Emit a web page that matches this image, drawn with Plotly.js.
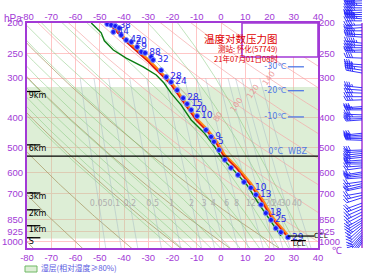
<!DOCTYPE html>
<html><head><meta charset="utf-8">
<script src="https://cdn.plot.ly/plotly-3.0.1.min.js"></script>
<style>html,body{margin:0;padding:0;background:#fff}#c{width:370px;height:275px}</style>
</head><body><div id="c"></div>
<script>
// ---------------- data ----------------
const pTicks = [200,250,300,400,500,600,700,850,925,1000];
const tTicks = [-80,-70,-60,-50,-40,-30,-20,-10,0,10,20,30,40];

const tempP = [200,230,266,315,408,439,482,527,580,649,734,834,949];
const tempT = [-46.5,-39.1,-30.0,-20.6,-10.3,-6.2,-2.1,0.8,6.2,11.5,16.5,20.6,26.7];
const parcelT = [-45.8,-38.4,-29.3,-20.0,-9.8,-5.7,-1.6,1.3,6.7,12.0,17.0,21.1,27.2];

const dewP = [200,215,228,244,259,276,293,311,335,365,408,448,498,540,591,658,756,840,957];
const dewT = [-53.5,-49.4,-48.1,-44.4,-39.1,-32.1,-26.7,-23.5,-20.6,-16.5,-12.3,-7.0,-2.5,0.4,5.3,10.7,15.6,19.8,24.7];

const obsP = [201.5,203,204.5,207.5,213.6,218.5,226.7,230,238.5,247.4,249.2,256.7,262.5,283,297.6,308.8,327.6,347.4,362.7,379,396.5,439,462,479,509,547,580,611,644,672,707,761,809,851,904,931,967];
const obsT = [-46.9,-45.3,-43.6,-42.0,-44.4,-41.2,-39.1,-37.0,-34.6,-32.9,-31.3,-28.8,-28.0,-24.7,-22.6,-20.6,-18.1,-15.6,-14.0,-12.3,-9.9,-6.2,-4.1,-2.9,-0.8,1.6,4.1,7.0,9.5,12.3,14.4,16.5,18.5,20.6,22.6,24.7,27.6];
const obsLbl = ['','','38','','44','','42','20','9','','88','','32','','28','24','','28','15','20','10','','9','5','','','','','','10','13','','18','25','','','29'];

const wetTopP = 320, wetBotP = 975;
const heightLbl = ['9km','6km','3km','2km','1km','S'];
const heightP = [331,490,698,790,888,970];
const levelLbl = ['-30℃','-20℃','-10℃'];
const levelP = [276,329,399];
const wbzP = 532;
const cclP = 958, lclP = 990;

const thetaC = [-80,-60,-40,-20,0,20,40,60,80,100,120,140,160,180,200];
const thetaLblC = [80,100,120,140];
const thetaLblP = [400,365,330,300];
const moistT0 = [-20,-16,-12,-8,-4,0,4,8,12,16,20,24,28,32,36];
const mixW = [0.05,0.1,0.2,0.5,1,2,3,4,6,8,12,16,20,24,30,40];
const mixLblP = 755;

const windP = [170,173,176,179,182,185,188,191,194,197,
               203,207,212,218,222,232,236,240,244,248,
               259,272,277,283,289,322,328,335,344,352,
               370,375,379,393,399,404,408,450,456,462,
               468,474,509,515,522,529,537,548,556,564,
               572,580,598,606,615,624,642,652,662,671,
               697,710,723,752,768,785,803,820,840,854,
               868,882,898,915,932,948,960,975,990,1005];
const windDir = [268,270,272,270,268,266,270,272,274,270,
                 268,266,270,272,274,276,272,270,268,270,
                 272,274,276,278,280,276,274,272,270,268,
                 266,268,270,272,270,268,266,264,266,268,
                 270,272,268,266,264,262,264,266,268,270,
                 266,262,260,262,264,266,262,258,256,258,
                 260,256,252,250,248,246,244,242,240,238,
                 236,232,228,226,224,222,220,218,216,214];
const windSpd = [18,20,22,20,18,16,18,20,22,20,
                 18,16,18,20,18,22,20,18,16,18,
                 16,14,16,18,16,14,12,14,16,14,
                 12,14,12,12,14,12,10,12,10,12,
                 12,10,12,10,12,10,12,10,8,10,
                 10,8,10,8,10,8,8,10,8,8,
                 8,10,8,8,10,8,10,8,10,8,
                 8,10,8,8,6,8,6,8,6,8];

// ---------------- layout constants ----------------
const W=370,H=275, plotL=27, plotR=318, plotT=23, plotB=248;
const pBottom=1046, pTop=200, pTopWind=169;
const PURPLE='#a23ad6', GRID='#ffc6c6', LBLUE='rgb(80,120,230)';
const xd=[plotL/W, plotR/W], yd=[1-plotB/H, 1-plotT/H];

// ---------------- helper physics for reference lines ----------------
const pGrid=[]; for(let p=1050;p>=160;p-=10) pGrid.push(p);
function dryT(thC,p){return (thC+273.15)*Math.pow(p/1000,0.286)-273.15;}
function satMix(Tc,p){const es=6.112*Math.exp(17.67*Tc/(Tc+243.5));return 0.622*es/(p-es);}
function moistLapse(TK,p){const Rd=287.04,cp=1005.7,Lv=2.501e6,eps=0.622;const rs=satMix(TK-273.15,p);
  return (Rd*TK+Lv*rs)/(p*(cp+Lv*Lv*rs*eps/(Rd*TK*TK)));}
function mixT(w,p){const e=w*p/(622+w);const l=Math.log(e/6.112);return 243.5*l/(17.67-l);}

const traces=[];
traces.push({x:[-80,40,40,-80,-80], y:[wetTopP,wetTopP,wetBotP,wetBotP,wetTopP], mode:'lines', fill:'toself',
  fillcolor:'rgba(170,212,152,0.4)', line:{width:0}, hoverinfo:'skip', xaxis:'x', yaxis:'y'});

const brX=[],brY=[],pkX=[],pkY=[];
thetaC.forEach(th=>{const tx=th<=20?brX:pkX, ty=th<=20?brY:pkY;
  pGrid.forEach(p=>{tx.push(dryT(th,p));ty.push(p);}); tx.push(null);ty.push(null);});
traces.push({x:brX,y:brY,mode:'lines',line:{color:'rgba(170,155,105,0.85)',width:0.9},hoverinfo:'skip'});
traces.push({x:pkX,y:pkY,mode:'lines',line:{color:'rgba(245,165,165,0.75)',width:0.9},hoverinfo:'skip'});

const mX=[],mY=[];
moistT0.forEach(t0=>{let T=t0+273.15,p=1050;mX.push(t0);mY.push(p);
  while(p>160){const dp=-5;const k1=moistLapse(T,p);const k2=moistLapse(T+k1*dp,p+dp);T+=0.5*(k1+k2)*dp;p+=dp;mX.push(T-273.15);mY.push(p);}
  mX.push(null);mY.push(null);});
traces.push({x:mX,y:mY,mode:'lines',line:{color:'rgba(125,195,115,0.6)',width:0.8},hoverinfo:'skip'});

const wX=[],wY=[];
mixW.forEach(w=>{pGrid.filter(p=>p>=300).forEach(p=>{wX.push(mixT(w,p));wY.push(p);});wX.push(null);wY.push(null);});
traces.push({x:wX,y:wY,mode:'lines',line:{color:'rgba(165,185,195,0.7)',width:0.7},hoverinfo:'skip'});
traces.push({x:mixW.map(w=>mixT(w,mixLblP)),y:mixW.map(()=>mixLblP),mode:'text',text:mixW.map(String),
  textfont:{family:'DejaVu Sans',size:8,color:'rgb(175,175,175)'},hoverinfo:'skip'});

const hX=[],hY=[];
heightP.forEach(p=>{hX.push(-80,-74.5,null);hY.push(p,p,null);});
traces.push({x:hX,y:hY,mode:'lines',line:{color:'#000',width:1.3},hoverinfo:'skip'});
traces.push({x:heightP.map(()=>-79.3),y:heightP,mode:'text',text:heightLbl,textposition:'bottom right',
  textfont:{family:'DejaVu Sans',size:8,color:'#000'},hoverinfo:'skip'});

traces.push({x:[-80,40],y:[wbzP,wbzP],mode:'lines',line:{color:'#000',width:1.3},hoverinfo:'skip',xaxis:'x2',yaxis:'y'});
traces.push({x:[27.5],y:[wbzP],mode:'text',text:['0°C  WBZ'],textposition:'top center',
  textfont:{family:'DejaVu Sans',size:8,color:LBLUE},hoverinfo:'skip'});

const lX=[],lY=[];
levelP.forEach(p=>{lX.push(27.6,34.2,null);lY.push(p,p,null);});
traces.push({x:lX,y:lY,mode:'lines',line:{color:LBLUE,width:1.3},hoverinfo:'skip',xaxis:'x',yaxis:'y2'});
traces.push({x:levelP.map(()=>22.4),y:levelP,mode:'text',text:levelLbl,
  textfont:{family:'DejaVu Sans',size:8,color:LBLUE},hoverinfo:'skip'});

traces.push({x:dewT,y:dewP,mode:'lines',line:{color:'#0a7d12',width:1.4},hoverinfo:'skip'});
traces.push({x:parcelT,y:tempP,mode:'lines',line:{color:'#ff8a1a',width:3.2},hoverinfo:'skip'});
traces.push({x:tempT,y:tempP,mode:'lines',line:{color:'#e01010',width:1.4},hoverinfo:'skip'});
traces.push({x:obsT,y:obsP,mode:'markers+text',text:obsLbl,textposition:'middle right',
  marker:{color:'rgb(25,25,245)',size:5,line:{color:'rgb(120,140,255)',width:1}},
  textfont:{family:'DejaVu Sans',size:9,color:'rgb(40,40,235)'},hoverinfo:'skip'});

traces.push({x:[27.6,38.5,null,28.8,35.0],y:[cclP,cclP,null,lclP,lclP],mode:'lines',line:{color:'#000',width:1.2},hoverinfo:'skip'});
traces.push({x:[38.3,32.2],y:[cclP,lclP],mode:'text',text:['CCL','LCL'],textposition:['middle right','bottom center'],cliponaxis:false,
  textfont:{family:'DejaVu Sans',size:7,color:'#000'},hoverinfo:'skip'});

// wind barbs
const y3r=[Math.log10(pBottom),Math.log10(pTopWind)];
const pxPerDec=plotB/(y3r[0]-y3r[1]);
function pShift(p,dy){return p*Math.pow(10,dy/pxPerDec);}
const staffX=362, L=16;
const bX=[],bY=[];
windP.forEach((p,i)=>{
  const d=windDir[i]*Math.PI/180, sx=Math.sin(d), sy=-Math.cos(d);
  bX.push(staffX, staffX+L*sx, null); bY.push(p, pShift(p,L*sy), null);
  const spd=Math.round(windSpd[i]/2)*2; const full=Math.floor(spd/4), half=(spd%4)?1:0;
  const a=65*Math.PI/180, fx=sx*Math.cos(a)-sy*Math.sin(a), fy=sx*Math.sin(a)+sy*Math.cos(a);
  for(let k=0;k<full+half;k++){
    const len=(k<full)?5:2.8, dist=L-k*2.2;
    const bx=staffX+dist*sx, by=dist*sy;
    bX.push(bx, bx+len*fx, null); bY.push(pShift(p,by), pShift(p,by+len*fy), null);
  }
});
traces.push({x:[staffX,staffX],y:[pTop,pBottom],mode:'lines',line:{color:PURPLE,width:1.5},hoverinfo:'skip',xaxis:'x3',yaxis:'y3'});
traces.push({x:bX,y:bY,mode:'lines',line:{color:'rgb(35,35,250)',width:0.9},hoverinfo:'skip',xaxis:'x3',yaxis:'y3',cliponaxis:false});

const axFont={family:'Liberation Sans, Arial, sans-serif',size:9.5,color:PURPLE};
const tTxt=tTicks.map(String), pTxt=pTicks.map(String);

const annotations=[
  {xref:'paper',yref:'paper',x:280/W,y:1-29/H,text:'温度对数压力图',showarrow:false,font:{family:'Noto Sans CJK SC',size:10.5,color:'#e00000'}},
  {xref:'paper',yref:'paper',x:280/W,y:1-41/H,text:'测站: 怀化(57749)',showarrow:false,font:{family:'Noto Sans CJK SC',size:7.5,color:'#e00000'}},
  {xref:'paper',yref:'paper',x:280/W,y:1-51/H,text:'21年07月01日08时',showarrow:false,font:{family:'Noto Sans CJK SC',size:7.6,color:'#e00000'}},
  {xref:'paper',yref:'paper',x:2/W,y:1-11/H,xanchor:'left',text:'hPa',showarrow:false,font:{family:'Liberation Sans',size:10,color:PURPLE}},
  {xref:'paper',yref:'paper',x:330/W,y:1-258/H,xanchor:'left',text:'℃',showarrow:false,font:{family:'Liberation Sans',size:10,color:PURPLE}},
  {xref:'paper',yref:'paper',x:40/W,y:0,yanchor:'bottom',yshift:1,xanchor:'left',text:'湿层(相对湿度≥80%)',showarrow:false,
    font:{family:'Noto Sans CJK SC',size:7.8,color:'rgb(90,90,225)'},borderpad:0}
];
thetaLblC.forEach((th,i)=>{annotations.push({xref:'x',yref:'y',x:dryT(th,thetaLblP[i]),y:Math.log10(thetaLblP[i]),text:String(th),
  showarrow:false,textangle:-55,font:{family:'DejaVu Sans',size:8,color:'rgba(235,150,150,0.9)'}});});

const layout={
  width:W,height:H,margin:{l:0,r:0,t:0,b:0},paper_bgcolor:'#fff',plot_bgcolor:'#fff',showlegend:false,
  xaxis:{domain:xd,range:[-80,40],tickmode:'array',tickvals:tTicks,ticktext:tTxt,ticks:'',showgrid:true,gridcolor:GRID,gridwidth:1,
    zeroline:false,showline:true,linecolor:PURPLE,linewidth:2,mirror:true,tickfont:axFont,anchor:'y',fixedrange:true},
  xaxis2:{overlaying:'x',side:'top',anchor:'y',range:[-80,40],tickmode:'array',tickvals:tTicks,ticktext:tTxt,ticks:'',
    showgrid:false,zeroline:false,showline:false,tickfont:axFont,fixedrange:true},
  yaxis:{domain:yd,type:'log',range:[Math.log10(pBottom),Math.log10(pTop)],tickmode:'array',tickvals:pTicks,ticktext:pTxt,ticks:'',
    showgrid:true,gridcolor:GRID,gridwidth:1,zeroline:false,showline:true,linecolor:PURPLE,linewidth:2,mirror:true,tickfont:axFont,anchor:'x',fixedrange:true},
  yaxis2:{overlaying:'y',side:'right',anchor:'x',type:'log',range:[Math.log10(pBottom),Math.log10(pTop)],tickmode:'array',tickvals:pTicks,ticktext:pTxt,
    ticks:'',showgrid:false,zeroline:false,showline:false,tickfont:axFont,fixedrange:true},
  xaxis3:{domain:[320/W,366/W],range:[320,366],visible:false,anchor:'y3',fixedrange:true},
  yaxis3:{domain:[1-plotB/H,1],type:'log',range:y3r,visible:false,anchor:'x3',fixedrange:true},
  shapes:[
    {type:'rect',xref:'paper',yref:'paper',x0:242/W,x1:318/W,y0:1-57/H,y1:1-23/H,layer:'above',fillcolor:'#fff',line:{color:PURPLE,width:1.6}},
    {type:'rect',xref:'paper',yref:'paper',x0:25/W,x1:37/W,y0:1-272/H,y1:1-266/H,fillcolor:'rgb(221,238,214)',line:{color:'rgb(110,185,100)',width:1}}
  ],
  annotations:annotations
};
Plotly.newPlot('c',traces,layout,{staticPlot:true,displayModeBar:false});
</script></body></html>
